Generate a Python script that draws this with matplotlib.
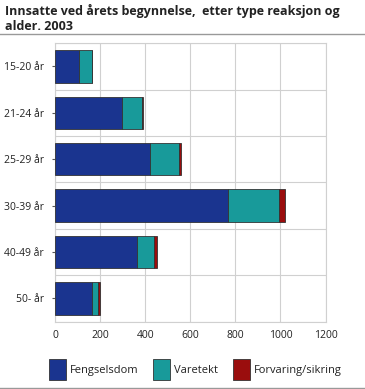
import matplotlib
matplotlib.use("Agg")
import matplotlib.pyplot as plt
from matplotlib.lines import Line2D

categories = ["15-20 år", "21-24 år", "25-29 år", "30-39 år", "40-49 år", "50- år"]
fengselsdom = [105, 298, 422, 766, 365, 162]
varetekt = [60, 87, 129, 227, 72, 28]
forvaring = [1, 5, 9, 29, 17, 10]
series_names = ["Fengselsdom", "Varetekt", "Forvaring/sikring"]
colors = ["#1a348f", "#189a9a", "#9a0d0d"]
xticks = [0, 200, 400, 600, 800, 1000, 1200]

plt.rcParams['font.family'] = ['Open Sans', 'DejaVu Sans']

fig = plt.figure(figsize=(3.65, 3.89), dpi=100)
ax = fig.add_axes([0.1507, 0.1735, 0.892 - 0.1507, 0.8887 - 0.1735])

ypos = list(range(len(categories)))
left = [0] * len(categories)
handles = []
for vals, name, c in zip([fengselsdom, varetekt, forvaring], series_names, colors):
    b = ax.barh(ypos, vals, left=left, height=0.7, color=c, edgecolor="#333333",
                linewidth=0.6, label=name, zorder=3)
    handles.append(b)
    left = [l + v for l, v in zip(left, vals)]

ax.set_ylim(len(categories) - 0.5, -0.5)
ax.set_xlim(0, 1200)
ax.set_xticks(xticks)
ax.set_xticklabels([str(t) for t in xticks], fontsize=7.5, color="#222222")
ax.set_yticks(ypos)
ax.set_yticklabels(categories, fontsize=7.5, color="#222222")
ax.set_yticks([i + 0.5 for i in range(-1, len(categories))], minor=True)
ax.grid(True, which="major", axis="x", color="#d0d0d0", linewidth=0.8, zorder=0)
ax.grid(True, which="minor", axis="y", color="#d0d0d0", linewidth=0.8, zorder=0)
ax.tick_params(axis="x", length=0, pad=6)
ax.tick_params(axis="y", which="major", length=2, color="#555555", pad=6)
ax.tick_params(axis="y", which="minor", length=0)
for s in ax.spines.values():
    s.set_color("#d0d0d0")
    s.set_linewidth(0.8)

fig.text(5 / 365, 1 - 4 / 389, "Innsatte ved årets begynnelse,  etter type reaksjon og\nalder. 2003",
         fontsize=9, fontweight="bold", va="top", ha="left", color="#222222", linespacing=1.15)

fig.add_artist(Line2D([0, 1], [1 - 33.5 / 389] * 2, color="#999999", linewidth=1, transform=fig.transFigure))
fig.add_artist(Line2D([0, 1], [1 - 387.5 / 389] * 2, color="#999999", linewidth=1, transform=fig.transFigure))

leg = fig.legend(handles=handles, labels=series_names, loc="center left",
                 bbox_to_anchor=(49.0 / 365, 1 - 369.5 / 389),
                 ncol=3, frameon=False, fontsize=8, handlelength=1.53, handleheight=2.43,
                 columnspacing=1.3, handletextpad=0.36, borderpad=0, borderaxespad=0)
for t in leg.get_texts():
    t.set_color("#222222")

fig.savefig("out.png", dpi=100)
